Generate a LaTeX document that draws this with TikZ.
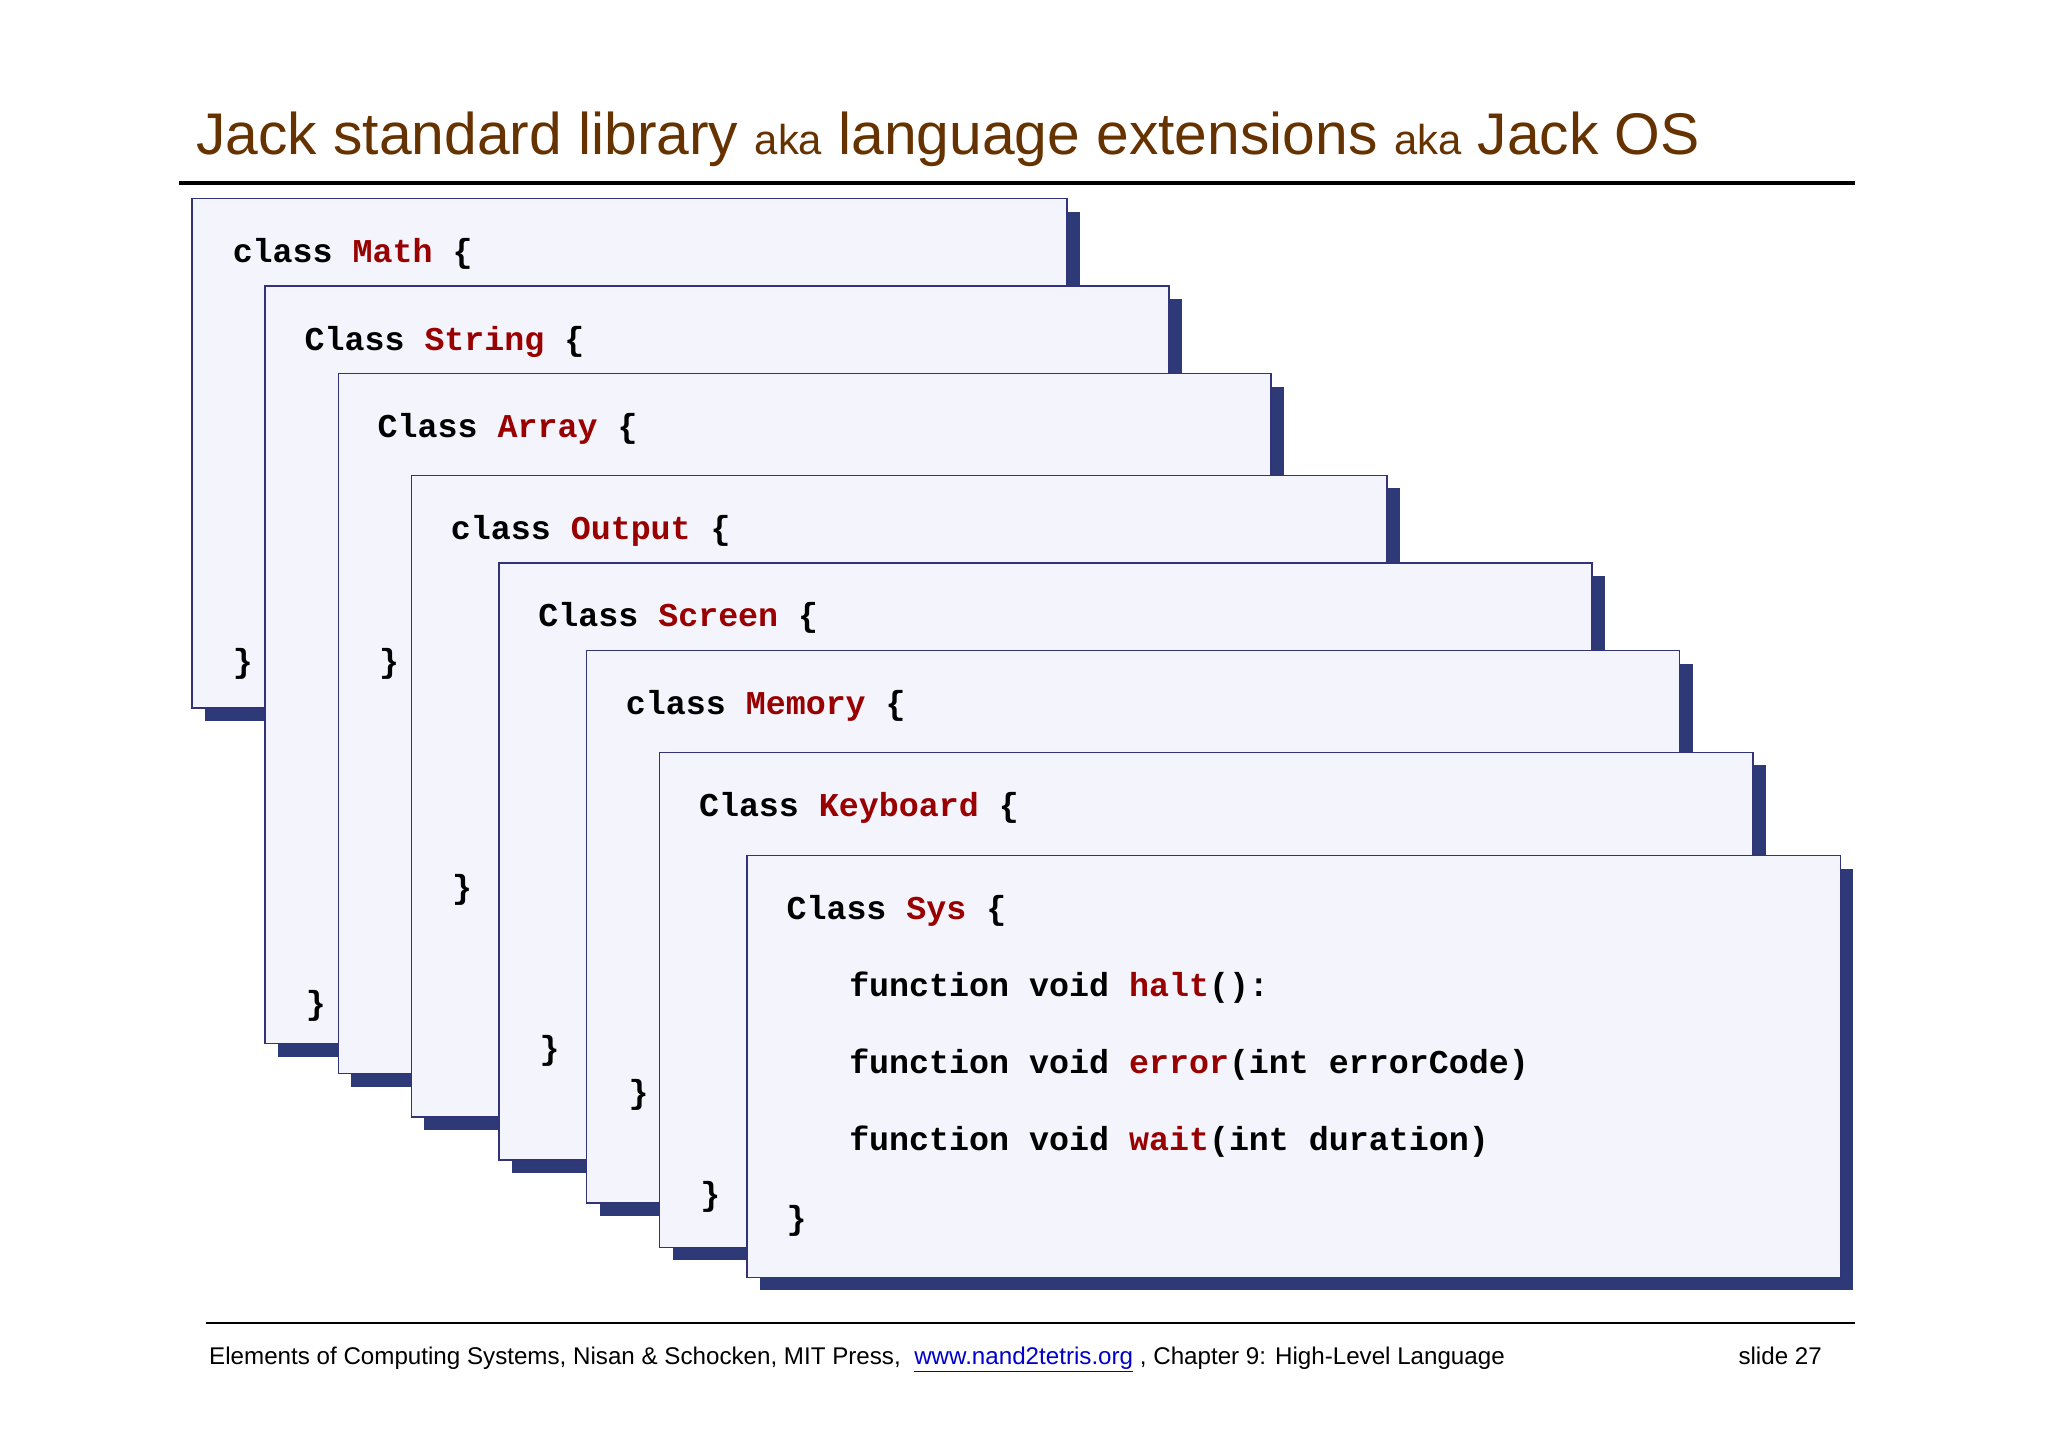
\documentclass[tikz,border=0pt]{standalone}
\usepackage{fontspec}
\setmainfont{Liberation Sans}
\newfontfamily\cour{Liberation Mono}
\definecolor{titlebrown}{HTML}{663300}
\definecolor{boxfill}{HTML}{F4F4FD}
\definecolor{boxline}{HTML}{33337A}
\definecolor{shadowc}{HTML}{2E3A78}
\definecolor{kw}{HTML}{990000}
\definecolor{linkc}{HTML}{0000CC}
\tikzset{
  code/.style={anchor=base west,inner sep=0pt,font=\cour\bfseries\fontsize{25.5}{29}\selectfont},
  shad/.style={fill=shadowc,draw=none},
  card/.style={fill=boxfill,draw=boxline,line width=1.2pt},
}
\newcommand{\jcard}[4]{%
  \fill[shad] (#1+10,#2+10) rectangle (#3+10,#4+10);
  \draw[card] (#1,#2) rectangle (#3,#4);}
\begin{document}
\begin{tikzpicture}[x=1pt,y=-1pt]
\useasboundingbox[fill=white] (0,0) rectangle (1568,1108);
\node[anchor=base west,inner sep=0pt,text=titlebrown] (title) at (150,118)
 {\fontsize{45}{50}\selectfont Jack standard library {\fontsize{32}{36}\selectfont aka} language extensions {\fontsize{32}{36}\selectfont aka} Jack OS};
\draw[line width=3pt] (137,140) -- (1420,140);
\jcard{147}{152}{817}{542}
\node[code] (m1) at (178,201) {class \textcolor{kw}{Math} \{};
\node[code] (m2) at (178,515) {\}};
\jcard{203}{219}{895}{799}
\node[code] (s1) at (233,268) {Class \textcolor{kw}{String} \{};
\node[code] (s2) at (234,777) {\}};
\jcard{259}{286}{973}{822}
\node[code] (a1) at (289,335) {Class \textcolor{kw}{Array} \{};
\node[code] (a2) at (290,515) {\}};
\jcard{315}{364}{1062}{855}
\node[code] (o1) at (345,413) {class \textcolor{kw}{Output} \{};
\node[code] (o2) at (346,688) {\}};
\jcard{382}{431}{1219}{888}
\node[code] (c1) at (412,480) {Class \textcolor{kw}{Screen} \{};
\node[code] (c2) at (413,811) {\}};
\jcard{449}{498}{1286}{921}
\node[code] (y1) at (479,547) {class \textcolor{kw}{Memory} \{};
\node[code] (y2) at (481,845) {\}};
\jcard{505}{576}{1342}{955}
\node[code] (k1) at (535,625) {Class \textcolor{kw}{Keyboard} \{};
\node[code] (k2) at (536,923) {\}};
\jcard{572}{655}{1409}{978}
\node[code] (z1) at (602,704) {Class \textcolor{kw}{Sys} \{};
\node[code] (z2) at (650,763) {function void \textcolor{kw}{halt}():};
\node[code] (z3) at (650,822) {function void \textcolor{kw}{error}(int errorCode)};
\node[code] (z4) at (650,881) {function void \textcolor{kw}{wait}(int duration)};
\node[code] (z5) at (602,941) {\}};
\draw[line width=1.5pt] (158,1013) -- (1420,1013);
\node[anchor=base west,inner sep=0pt,font=\fontsize{18.5}{22}\selectfont] (foot) at (160,1045)
 {Elements of Computing Systems, Nisan \& Schocken, MIT Press,\ \ \textcolor{linkc}{\underline{www.nand2tetris.org}} , Chapter 9: High-Level Language};
\node[anchor=base east,inner sep=0pt,font=\fontsize{18.5}{22}\selectfont] (slide) at (1395,1045) {slide 27};
\end{tikzpicture}
\end{document}
